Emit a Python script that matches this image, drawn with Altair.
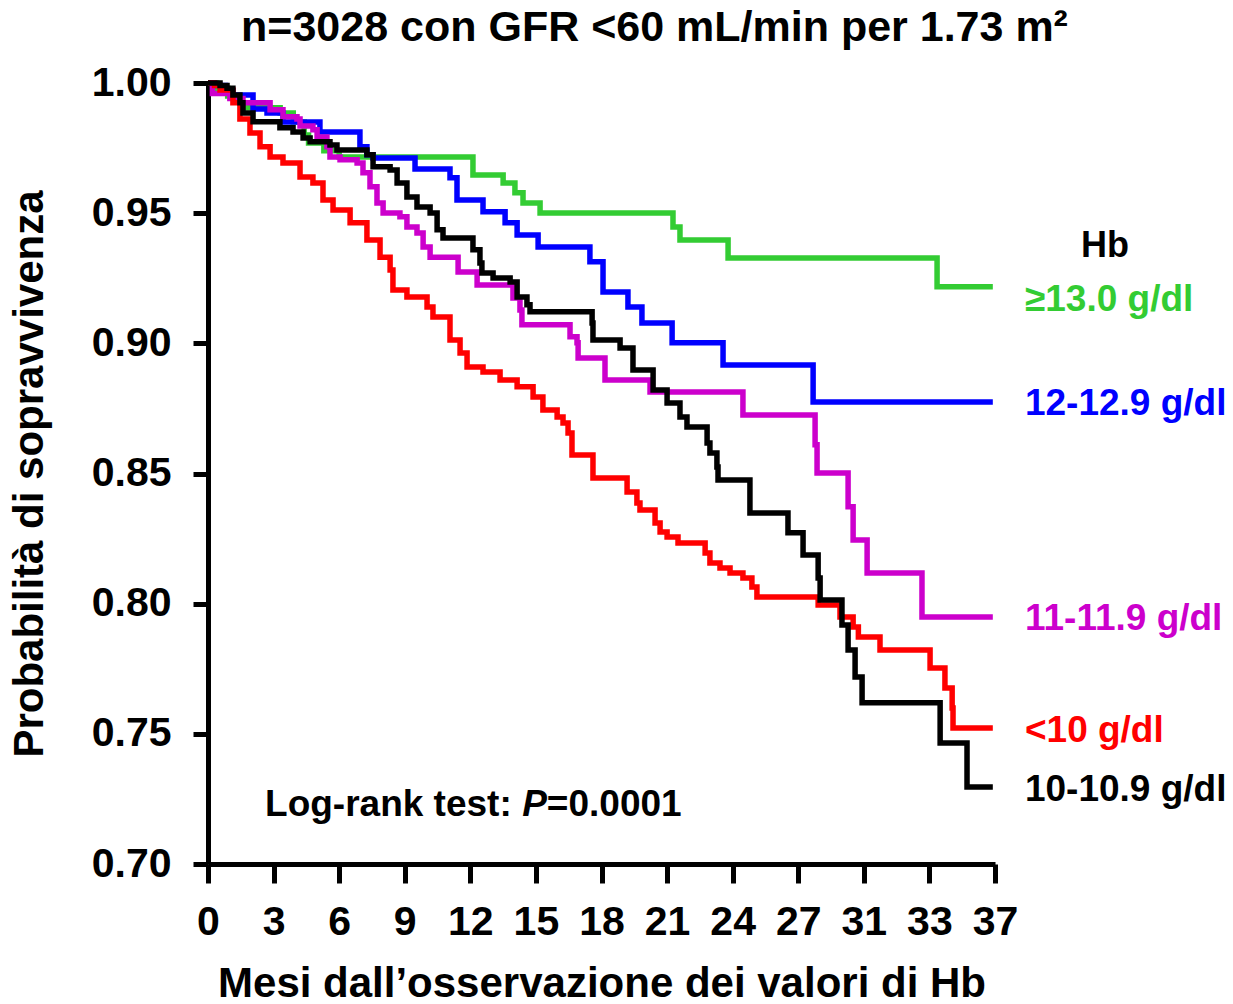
import altair as alt
import pandas as pd

# ---------------- data (months, survival probability) ----------------
green_t = [0, 0.4, 0.9, 1.5, 3.3, 3.9, 4.4, 4.6, 5.3, 6.0, 12.12, 13.50, 14.04, 14.41, 15.19,
           21.27, 21.59, 23.79, 33.35, 35.9]
green_s = [1.000, 0.998, 0.995, 0.9905, 0.9885, 0.985, 0.980, 0.977, 0.974, 0.9716, 0.9647,
           0.9616, 0.9578, 0.9539, 0.9501, 0.9447, 0.9397, 0.9328, 0.9217, 0.9217]

blue_t = [0, 0.3, 0.8, 1.14, 2.06, 2.7, 3.43, 5.12, 6.95, 7.27, 7.55, 9.47, 11.07, 11.39, 12.58,
          13.59, 14.14, 15.10, 17.47, 18.07, 19.21, 19.85, 21.23, 23.56, 27.68, 35.9]
blue_s = [1.000, 0.999, 0.997, 0.9954, 0.990, 0.9885, 0.985, 0.9812, 0.9755, 0.9724, 0.9712,
          0.967, 0.9636, 0.9551, 0.9505, 0.9463, 0.9416, 0.937, 0.9313, 0.9197, 0.914, 0.9078,
          0.9002, 0.8917, 0.8775, 0.8775]

magenta_t = [0, 0.2, 1.0, 1.6, 2.84, 3.43, 4.07, 4.21, 4.80, 4.99, 5.44, 5.58, 6.04, 6.82, 7.09,
             7.41, 7.73, 8.01, 8.78, 9.10, 9.56, 9.84, 10.16, 11.44, 12.31, 13.95, 14.27, 14.36,
             16.56, 16.88, 16.93, 18.16, 20.22, 24.47, 27.77, 27.86, 29.28, 29.51, 30.15, 32.66,
             35.9]
magenta_s = [1.000, 0.996, 0.994, 0.9924, 0.9897, 0.987, 0.9862, 0.9835, 0.982, 0.9793, 0.9755,
             0.9716, 0.9705, 0.9693, 0.9655, 0.9601, 0.9539, 0.9501, 0.9486, 0.9447, 0.9424,
             0.937, 0.9331, 0.9274, 0.9224, 0.9174, 0.9128, 0.9071, 0.9025, 0.9002, 0.8944,
             0.8859, 0.8813, 0.8725, 0.861, 0.8502, 0.8372, 0.8245, 0.8118, 0.7949, 0.7949]

red_t = [0, 0.3, 0.55, 1.14, 1.46, 1.92, 2.38, 2.84, 3.43, 4.21, 4.80, 5.26, 5.72, 6.50, 7.27,
         7.87, 8.33, 8.46, 9.10, 10.02, 10.29, 11.07, 11.53, 11.85, 12.58, 13.36, 14.14, 14.87,
         15.32, 15.97, 16.24, 16.47, 16.65, 17.61, 19.17, 19.62, 19.76, 20.45, 20.68, 21.00,
         21.50, 22.74, 22.96, 23.42, 23.88, 24.47, 24.88, 25.11, 27.91, 28.91, 29.51, 29.75,
         30.74, 33.03, 33.71, 34.04, 34.08, 35.9]
red_s = [1.000, 0.999, 0.9973, 0.9924, 0.9862, 0.9808, 0.9755, 0.9716, 0.9693, 0.9639, 0.9616,
         0.9551, 0.9512, 0.9463, 0.9397, 0.9331, 0.9282, 0.9205, 0.9178, 0.914, 0.9101, 0.9013,
         0.8963, 0.8909, 0.889, 0.8859, 0.8833, 0.8794, 0.8744, 0.8717, 0.8694, 0.8656, 0.8571,
         0.8483, 0.8429, 0.8387, 0.836, 0.831, 0.8275, 0.8256, 0.8233, 0.8195, 0.8156, 0.8137,
         0.8118, 0.8099, 0.8064, 0.8026, 0.7995, 0.7949, 0.791, 0.7872, 0.7822, 0.7753, 0.7676,
         0.7599, 0.7522, 0.7522]

black_t = [0, 0.55, 0.87, 1.14, 1.46, 1.60, 2.06, 3.29, 3.89, 4.35, 4.67, 5.58, 5.90, 7.27, 7.55,
           8.33, 8.65, 9.10, 9.56, 10.16, 10.48, 10.75, 12.12, 12.44, 12.53, 13.04, 13.82, 14.14,
           14.59, 14.73, 17.57, 17.61, 18.85, 19.44, 20.36, 21.00, 21.59, 21.91, 22.83, 22.96,
           23.28, 23.33, 24.79, 26.53, 27.22, 27.91, 28.00, 29.00, 29.28, 29.60, 29.92, 33.49,
           34.72, 35.9]
black_s = [1.000, 0.999, 0.998, 0.9954, 0.9924, 0.9885, 0.9851, 0.9828, 0.9812, 0.9789, 0.9774,
           0.9762, 0.9743, 0.9724, 0.9678, 0.9666, 0.9616, 0.9562, 0.9524, 0.9501, 0.9436,
           0.9405, 0.9359, 0.9309, 0.927, 0.9251, 0.9236, 0.9178, 0.9148, 0.9121, 0.9078,
           0.9013, 0.8982, 0.8898, 0.8821, 0.8771, 0.8717, 0.8679, 0.8617, 0.8579, 0.8525,
           0.8475, 0.8348, 0.8272, 0.8187, 0.8099, 0.8014, 0.7918, 0.7822, 0.7718, 0.7619,
           0.7465, 0.7296, 0.7296]

series_names = ["≥13.0 g/dl", "12-12.9 g/dl", "11-11.9 g/dl", "<10 g/dl", "10-10.9 g/dl"]
series_colors = ["#33CC33", "#0000FF", "#CC00CC", "#FF0000", "#000000"]
series_t = [green_t, blue_t, magenta_t, red_t, black_t]
series_s = [green_s, blue_s, magenta_s, red_s, black_s]

# label positions (data units) for right-side legend texts
label_x = [37.37, 37.37, 37.37, 37.37, 37.37]
label_y = [0.9166, 0.8767, 0.7941, 0.7511, 0.7284]
header_text = "Hb"
header_x = 41.03
header_y = 0.9374

x_ticks = [0, 3, 6, 9, 12, 15, 18, 21, 24, 27, 30, 33, 36]
x_tick_labels = ["0", "3", "6", "9", "12", "15", "18", "21", "24", "27", "31", "33", "37"]
y_ticks = [0.70, 0.75, 0.80, 0.85, 0.90, 0.95, 1.00]

logrank_parts = ["Log-rank test: ", "P", "=0.0001"]
logrank_x = [2.61, 14.37, 15.50]
logrank_y = 0.7227
logrank_style = ["normal", "italic", "normal"]

FONT = "Liberation Sans"

label_expr = "".join(f"datum.value == {v} ? '{l}' : " for v, l in zip(x_ticks, x_tick_labels)) + "datum.label"

x_enc = alt.X(
    "t:Q",
    scale=alt.Scale(domain=[0, 36], nice=False, zero=False),
    axis=alt.Axis(
        values=x_ticks,
        labelExpr=label_expr,
        title="Mesi dall’osservazione dei valori di Hb",
        labelOverlap=False,
        labelFlush=False,
        labelBound=False,
        tickSize=19,
        labelPadding=19,
        titlePadding=21,
    ),
)
y_enc = alt.Y(
    "s:Q",
    scale=alt.Scale(domain=[0.70, 1.00], nice=False, zero=False),
    axis=alt.Axis(
        values=y_ticks,
        format=".2f",
        title="Probabilità di sopravvivenza",
        labelOverlap=False,
        labelFlush=False,
        tickSize=15,
        labelPadding=22,
        titlePadding=40,
    ),
)

layers = []
for i, (name, col, ts, ss) in enumerate(zip(series_names, series_colors, series_t, series_s)):
    df = pd.DataFrame({"t": ts, "s": ss, "group": name})
    enc = dict(x=x_enc, y=y_enc) if i == 0 else dict(x="t:Q", y="s:Q")
    layers.append(
        alt.Chart(df)
        .mark_line(interpolate="step-after", strokeWidth=5.5, color=col)
        .encode(**enc)
    )

lab_df = pd.DataFrame({"t": label_x, "s": label_y, "text": series_names, "color": series_colors})
labels = alt.Chart(lab_df).mark_text(
    align="left", baseline="middle", font=FONT, fontSize=37, fontWeight="bold"
).encode(x="t:Q", y="s:Q", text="text:N", color=alt.Color("color:N", scale=None))

hdr_df = pd.DataFrame({"t": [header_x], "s": [header_y], "text": [header_text]})
header = alt.Chart(hdr_df).mark_text(
    align="center", baseline="middle", font=FONT, fontSize=36, fontWeight="bold", color="#000000"
).encode(x="t:Q", y="s:Q", text="text:N")

lr_layers = []
for part, px, st in zip(logrank_parts, logrank_x, logrank_style):
    d = pd.DataFrame({"t": [px], "s": [logrank_y], "text": [part]})
    lr_layers.append(
        alt.Chart(d).mark_text(
            align="left", baseline="middle", font=FONT, fontSize=37, fontWeight="bold",
            fontStyle=st, color="#000000"
        ).encode(x="t:Q", y="s:Q", text="text:N")
    )

chart = (
    alt.layer(*layers, labels, header, *lr_layers)
    .properties(
        width=787,
        height=781,
        title=alt.TitleParams(
            text="n=3028 con GFR <60 mL/min per 1.73 m²",
            font=FONT,
            fontSize=43,
            fontWeight="bold",
            color="#000000",
            anchor="middle",
            frame="group",
            dx=53,
            dy=40,
            offset=18,
            baseline="alphabetic",
        ),
        autosize=alt.AutoSizeParams(type="none"),
        padding={"left": 208, "top": 83, "right": 238, "bottom": 140},
    )
    .configure_view(stroke=None)
    .configure_axis(
        grid=False,
        domainColor="#000000",
        domainWidth=5,
        tickColor="#000000",
        tickWidth=5,
        labelColor="#000000",
        labelFont=FONT,
        labelFontSize=41,
        labelFontWeight="bold",
        titleColor="#000000",
        titleFont=FONT,
        titleFontSize=42,
        titleFontWeight="bold",
    )
)

chart.save("out.html", embed_options={"renderer": "svg", "actions": False})
